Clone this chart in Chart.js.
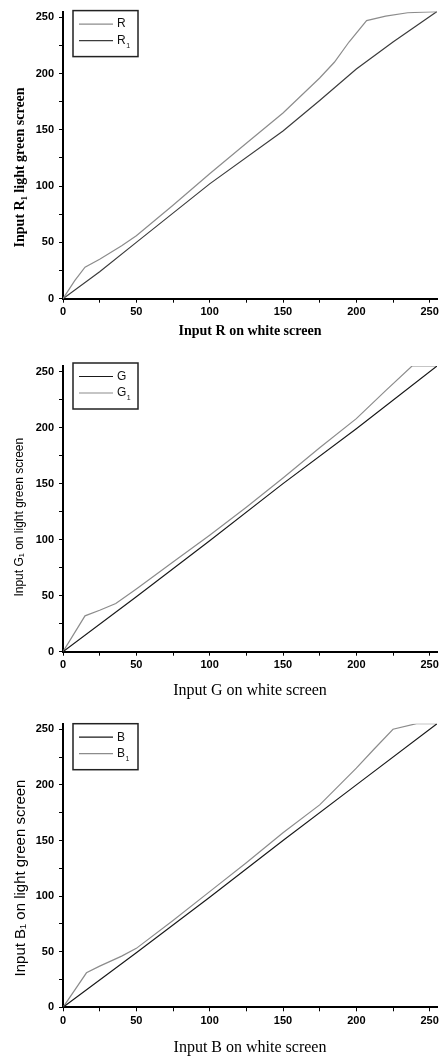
<!DOCTYPE html>
<html lang="en">
<head>
  <meta charset="UTF-8" />
  <title>Input on white vs light green screen</title>
  <script src="https://cdn.jsdelivr.net/npm/chart.js"></script>
  <style>
    body {
      margin: 0;
      background: #fff;
    }
    .panel {
      position: absolute;
      left: 0;
      width: 443px;
    }
    #p1 { top: 0; height: 340px; }
    #p2 { top: 340px; height: 360px; }
    #p3 { top: 700px; height: 357px; }
  </style>
</head>
<body>

<div class="panel" id="p1"><canvas id="chartR"></canvas></div>
<div class="panel" id="p2"><canvas id="chartG"></canvas></div>
<div class="panel" id="p3"><canvas id="chartB"></canvas></div>

<script>
  // red channel
  const rX  = [0, 8, 15, 25, 40, 50, 75, 100, 125, 150, 175, 185, 195, 207, 220, 235, 255];
  const rY  = [0, 16, 28, 35, 47, 56, 83, 111, 138, 165, 196, 210, 228, 247, 251, 254, 255];
  const r1X = [0, 25, 50, 100, 150, 175, 200, 225, 255];
  const r1Y = [0, 24, 50, 102, 149, 176, 204, 228, 255];

  // green channel
  const gX  = [0, 50, 100, 150, 200, 255];
  const gY  = [0, 49, 99, 150, 199, 255];
  const g1X = [0, 15, 25, 36, 50, 75, 100, 125, 150, 175, 200, 220, 238, 255];
  const g1Y = [0, 32, 37, 43, 56, 80, 104, 129, 155, 182, 208, 233, 255, 255];

  // blue channel
  const bX  = [0, 50, 100, 150, 200, 255];
  const bY  = [0, 49, 99, 150, 200, 255];
  const b1X = [0, 16, 25, 40, 50, 75, 100, 125, 150, 175, 200, 212, 225, 241, 255];
  const b1Y = [0, 31, 37, 46, 53, 78, 104, 130, 157, 182, 215, 232, 250, 255, 255];

  const tickValues = [0, 25, 50, 75, 100, 125, 150, 175, 200, 225, 250];

  const pts = (xs, ys) => xs.map((x, i) => ({ x: x, y: ys[i] }));

  // legend box drawn inside the plot, top left
  const boxLegend = {
    id: 'boxLegend',
    afterDatasetsDraw(chart, args, opts) {
      const { ctx, chartArea } = chart;
      const x = chartArea.left + opts.dx;
      const y = chartArea.top + opts.dy;
      ctx.save();
      ctx.strokeStyle = '#222';
      ctx.lineWidth = 1.5;
      ctx.strokeRect(x, y, 65, 46);
      chart.data.datasets.forEach((ds, i) => {
        const ly = y + 13.5 + i * 16.5;
        ctx.strokeStyle = ds.borderColor;
        ctx.lineWidth = 1.2;
        ctx.beginPath();
        ctx.moveTo(x + 6, ly);
        ctx.lineTo(x + 40, ly);
        ctx.stroke();
        ctx.fillStyle = '#111';
        ctx.textBaseline = 'middle';
        ctx.font = '12px "Liberation Sans", Arial, sans-serif';
        const base = ds.label.replace('₁', '');
        ctx.fillText(base, x + 44, ly);
        if (ds.label.endsWith('₁')) {
          const w = ctx.measureText(base).width;
          ctx.font = '7px "Liberation Sans", Arial, sans-serif';
          ctx.fillText('1', x + 44 + w + 0.5, ly + 5);
        }
      });
      ctx.restore();
    }
  };

  function makeChart(id, sets, cfg) {
    const tickFont = { family: '"Liberation Sans", Arial, sans-serif', size: 11, weight: 'bold' };
    return new Chart(document.getElementById(id), {
      type: 'line',
      data: {
        datasets: sets.map(s => ({
          label: s.label,
          data: s.data,
          borderColor: s.color,
          borderWidth: 1.2,
          pointRadius: 0,
          fill: false,
          tension: 0
        }))
      },
      options: {
        responsive: true,
        maintainAspectRatio: false,
        animation: false,
        layout: { padding: { top: cfg.top, right: 6, bottom: 0, left: 0 } },
        plugins: {
          legend: { display: false },
          tooltip: { enabled: false },
          boxLegend: { dx: 10, dy: cfg.legendDy }
        },
        scales: {
          x: {
            type: 'linear',
            min: 0,
            max: 255,
            afterBuildTicks: s => { s.ticks = tickValues.map(v => ({ value: v })); },
            afterFit: s => { s.height = cfg.xHeight; },
            ticks: {
              color: '#000',
              font: tickFont,
              padding: 3,
              maxRotation: 0,
              callback: v => (v % 50 === 0 ? v : '')
            },
            grid: { drawOnChartArea: false, tickLength: 4, color: '#000' },
            border: { color: '#000', width: 2 },
            title: {
              display: true,
              text: cfg.xTitle,
              color: '#000',
              font: cfg.xFont,
              padding: { top: 0, bottom: 0 }
            }
          },
          y: {
            type: 'linear',
            min: 0,
            max: 255,
            afterBuildTicks: s => { s.ticks = tickValues.map(v => ({ value: v })); },
            afterFit: s => { s.width = 63; },
            ticks: {
              color: '#000',
              font: tickFont,
              padding: 5,
              callback: v => (v % 50 === 0 ? v : '')
            },
            grid: { drawOnChartArea: false, tickLength: 4, color: '#000' },
            border: { color: '#000', width: 2 },
            title: {
              display: true,
              text: cfg.yTitle,
              color: '#000',
              font: cfg.yFont,
              padding: { top: 12, bottom: 0 }
            }
          }
        }
      },
      plugins: [boxLegend]
    });
  }

  const serif = '"Liberation Serif", "Times New Roman", serif';
  const sans = '"Liberation Sans", Arial, sans-serif';

  makeChart('chartR', [
    { label: 'R', data: pts(rX, rY), color: '#8c8c8c' },
    { label: 'R₁', data: pts(r1X, r1Y), color: '#3c3c3c' }
  ], {
    top: 11, xHeight: 41.3, legendDy: -1,
    xTitle: 'Input R on white screen',
    xFont: { family: serif, size: 14, weight: 'bold' },
    yTitle: 'Input R₁ light green screen       ',
    yFont: { family: serif, size: 14, weight: 'bold' }
  });

  makeChart('chartG', [
    { label: 'G', data: pts(gX, gY), color: '#1a1a1a' },
    { label: 'G₁', data: pts(g1X, g1Y), color: '#8c8c8c' }
  ], {
    top: 26, xHeight: 48.3, legendDy: -3,
    xTitle: 'Input G on white screen',
    xFont: { family: serif, size: 16, weight: 'normal' },
    yTitle: 'Input G₁ on light green screen     ',
    yFont: { family: sans, size: 12, weight: 'normal' }
  });

  makeChart('chartB', [
    { label: 'B', data: pts(bX, bY), color: '#1a1a1a' },
    { label: 'B₁', data: pts(b1X, b1Y), color: '#8c8c8c' }
  ], {
    top: 23.7, xHeight: 49.7, legendDy: 0,
    xTitle: 'Input B on white screen',
    xFont: { family: serif, size: 16, weight: 'normal' },
    yTitle: 'Input B₁ on light green screen      ',
    yFont: { family: sans, size: 15, weight: 'normal' }
  });
</script>

</body>
</html>
